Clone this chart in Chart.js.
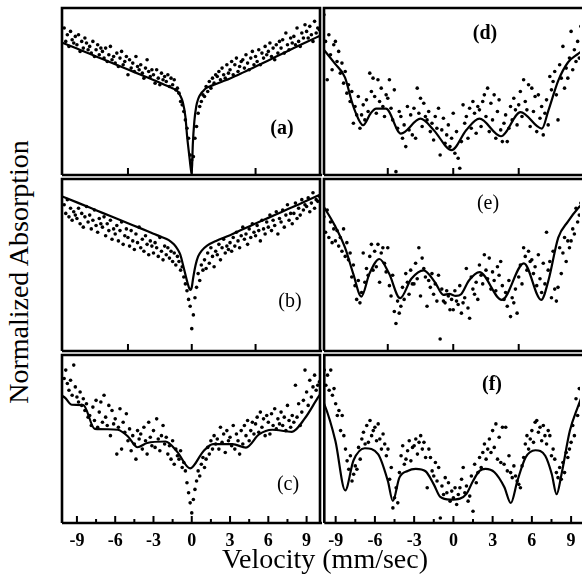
<!DOCTYPE html>
<html>
<head>
<meta charset="utf-8">
<script src="https://cdn.jsdelivr.net/npm/chart.js@4.4.1/dist/chart.umd.min.js"></script>
<style>
  html, body { margin: 0; padding: 0; background: #fff; }
  body { width: 582px; height: 576px; position: relative; overflow: hidden; font-family: 'Liberation Serif', 'Times New Roman', serif; color: #000; }
  .panel { position: absolute; }
  .txt { position: absolute; white-space: nowrap; transform: translate(-50%, -50%); line-height: 1; }
  .ytitle { transform: translate(-50%, -50%) rotate(-90deg); font-size: 28px; }
  .xtitle { font-size: 28px; }
  .tag { font-size: 20px; }
</style>
</head>
<body>
<canvas id="pa" class="panel"></canvas>
<canvas id="pb" class="panel"></canvas>
<canvas id="pc" class="panel"></canvas>
<canvas id="pd" class="panel"></canvas>
<canvas id="pe" class="panel"></canvas>
<canvas id="pf" class="panel"></canvas>

<div class="txt ytitle" style="left:19px;top:272px">Normalized Absorption</div>
<div class="txt xtitle" style="left:325px;top:559px">Velocity (mm/sec)</div>
<div class="txt tag" style="left:282px;top:127px;font-weight:bold">(a)</div>
<div class="txt tag" style="left:290px;top:300px">(b)</div>
<div class="txt tag" style="left:288px;top:483px">(c)</div>
<div class="txt tag" style="left:485px;top:32px;font-weight:bold">(d)</div>
<div class="txt tag" style="left:488px;top:202px">(e)</div>
<div class="txt tag" style="left:492px;top:383px;font-weight:bold">(f)</div>

<script>
// ── velocity channels (mm/sec), shared by all six spectra ──
const velocity = [
  -10,-9.875,-9.75,-9.625,-9.5,-9.375,-9.25,-9.125,
  -9,-8.875,-8.75,-8.625,-8.5,-8.375,-8.25,-8.125,
  -8,-7.875,-7.75,-7.625,-7.5,-7.375,-7.25,-7.125,
  -7,-6.875,-6.75,-6.625,-6.5,-6.375,-6.25,-6.125,
  -6,-5.875,-5.75,-5.625,-5.5,-5.375,-5.25,-5.125,
  -5,-4.875,-4.75,-4.625,-4.5,-4.375,-4.25,-4.125,
  -4,-3.875,-3.75,-3.625,-3.5,-3.375,-3.25,-3.125,
  -3,-2.875,-2.75,-2.625,-2.5,-2.375,-2.25,-2.125,
  -2,-1.875,-1.75,-1.625,-1.5,-1.375,-1.25,-1.125,
  -1,-0.875,-0.75,-0.625,-0.5,-0.375,-0.25,-0.125,
  0,0.125,0.25,0.375,0.5,0.625,0.75,0.875,
  1,1.125,1.25,1.375,1.5,1.625,1.75,1.875,
  2,2.125,2.25,2.375,2.5,2.625,2.75,2.875,
  3,3.125,3.25,3.375,3.5,3.625,3.75,3.875,
  4,4.125,4.25,4.375,4.5,4.625,4.75,4.875,
  5,5.125,5.25,5.375,5.5,5.625,5.75,5.875,
  6,6.125,6.25,6.375,6.5,6.625,6.75,6.875,
  7,7.125,7.25,7.375,7.5,7.625,7.75,7.875,
  8,8.125,8.25,8.375,8.5,8.625,8.75,8.875,
  9,9.125,9.25,9.375,9.5,9.625,9.75,9.875,
  10
];

// measured absorption (arbitrary units, 0 = bottom of panel, 100 = top)
const countsA = [
  88,80,84,77,86,81,79,83, 78,84,74,80,76,82,79,75, 77,73,80,71,75,78,72,76, 74,70,76,68,72,77,69,71,
  67,73,65,70,74,66,68,71, 60,69,64,67,62,71,65,63, 66,61,58,64,69,62,59,63, 60,55,63,58,54,61,57,59,
  56,60,53,58,54,57,51,52, 49,44,42,38,33,28,22,12, 9,11,22,29,37,41,44,48, 47,53,50,56,52,58,55,60,
  59,62,57,64,60,58,66,61, 63,68,60,66,70,62,65,68, 69,64,72,67,63,70,74,66, 71,68,75,66,73,70,77,72,
  74,79,71,76,69,78,73,80, 76,81,73,85,78,75,82,79, 83,78,88,80,77,85,82,90, 86,82,89,84,80,92,85,88,
  87
];
const countsB = [
  85,80,88,78,83,76,81,79, 77,83,74,80,72,78,84,75, 79,71,76,82,73,69,77,74, 72,78,67,74,70,76,65,71,
  68,73,64,70,75,62,67,71, 66,61,70,64,59,68,63,72, 60,65,58,67,62,56,64,61, 57,63,60,55,66,58,53,61,
  56,60,54,58,52,57,50,55, 52,47,49,43,39,35,30,26, 13,21,31,37,45,41,50,47, 53,48,57,51,60,55,49,58,
  56,62,53,60,65,57,61,59, 63,58,66,61,69,64,60,67, 72,65,68,62,71,66,74,69, 67,73,70,64,76,71,68,75,
  72,79,70,76,73,81,68,77, 75,82,72,79,85,76,80,74, 80,86,77,83,79,88,82,85, 84,89,81,86,92,83,88,87,
  90
];
const countsC = [
  86,91,83,79,85,76,94,81, 75,72,78,70,74,67,71,63, 64,58,69,61,73,57,66,72, 60,76,63,58,70,52,67,59,
  62,41,57,68,44,60,54,65, 49,56,43,52,47,38,55,50, 53,44,57,49,41,60,51,46, 55,45,62,50,43,52,58,47,
  51,41,46,38,49,35,44,40, 38,43,33,36,31,24,18,12, 6,14,20,25,31,28,35,39, 33,38,45,41,49,44,52,47,
  50,44,57,48,53,42,55,49, 51,46,58,44,53,49,41,55, 47,58,52,61,49,55,60,53, 59,63,54,66,57,62,52,64,
  60,53,65,58,68,56,62,59, 66,58,63,55,70,61,57,64, 60,82,63,71,58,66,73,91, 78,70,85,75,81,88,79,82,
  84
];
const countsD = [
  90,96,80,57,84,72,63,78, 80,68,74,61,67,55,62,49, 54,44,50,31,41,36,47,28, 36,42,33,45,38,61,50,58,
  47,37,57,44,52,41,35,48, 46,57,40,33,51,2,28,38, 35,22,30,17,41,27,36,24, 40,22,52,37,46,29,43,35,
  33,38,26,31,21,35,28,40, 12,27,34,19,24,30,17,22, 37,13,26,10,4,20,42,31, 35,22,40,28,44,37,25,41,
  39,29,44,48,35,52,26,43, 33,48,22,38,45,27,20,31, 36,20,28,41,33,46,39,30, 42,50,35,57,44,39,54,29,
  52,38,47,26,48,34,41,24, 37,45,30,59,51,56,62,48, 33,66,58,77,52,64,58,70, 86,63,75,68,80,70,89,74,
  78
];
const countsE = [
  88,78,69,82,66,75,63,71, 64,70,61,66,58,71,55,63, 53,57,43,50,38,30,41,28, 34,57,40,48,44,55,62,47,
  58,49,62,40,57,60,51,46, 60,38,32,44,23,16,29,22, 26,37,30,45,40,33,47,39, 39,51,42,60,32,54,48,43,
  26,41,37,45,33,39,29,44, 7,36,29,28,35,32,24,30, 24,35,29,27,38,22,28,31, 48,25,19,43,36,33,40,30,
  50,44,39,56,47,42,54,36, 46,41,35,49,44,52,38,30, 34,26,41,20,31,28,36,22, 43,50,39,60,55,47,58,52,
  53,45,49,38,56,42,34,51, 39,69,47,52,31,58,36,29, 37,60,45,57,66,52,64,60, 64,71,68,83,75,79,86,72,
  88
];
const countsF = [
  86,91,82,88,79,91,76,80, 71,64,67,55,64,52,44,37, 32,40,25,29,34,32,45,38, 50,54,47,58,48,61,52,55,
  57,49,59,50,44,53,47,40, 44,26,33,9,15,21,12,30, 40,46,35,38,43,49,37,45, 46,50,41,48,52,44,48,39,
  21,44,39,31,28,36,25,33, 3,22,17,27,18,24,13,19, 15,21,11,17,21,26,33,18, 22,13,16,28,7,35,24,30,
  39,33,42,47,38,44,50,42, 55,45,59,38,51,36,57,35, 57,31,40,30,27,34,28,25, 23,21,34,39,47,52,44,50,
  55,48,60,61,54,57,49,58, 52,47,55,52,40,44,38,30, 27,33,26,36,30,42,39,44, 48,58,52,74,64,80,70,83,
  85
];

// fitted curves (knots)
const fitAx = [-10.2,-9,-8,-7,-6,-5,-4,-3,-2.4,-1.8,-1.4,-1.1,-0.9,-0.7,-0.5,-0.35,-0.2,-0.08,0,0.08,0.2,0.35,0.5,0.7,0.9,1.1,1.4,1.8,2.4,3,4,5,6,7,8,9,10.1];
const fitAy = [79.4,75.7,72.6,69.4,66.3,63.2,60,56.9,55,53,51.6,50,47.5,43.5,35,22,12,4,0.5,18,32,41,45.5,48.5,50.3,51.8,53,54.2,56,57.8,61.3,65,68.6,72.3,76,79.6,83.6];
const fitBx = [-10.2,-9,-8,-7,-6,-5,-4,-3,-2.4,-1.8,-1.4,-1.1,-0.9,-0.65,-0.4,-0.2,-0.1,0,0.1,0.3,0.5,0.8,1.2,1.9,3,4,5,6,7,8,9,10.1];
const fitBy = [90,86.4,83.4,80.3,77.3,74.3,71.3,68.2,66.4,64.5,62,59,56,49,41.5,36.5,35.5,37,42,50,55,58.5,61.3,64,67.3,70.8,74.1,77.4,80.7,84,87.3,91];
const fitCx = [-10.2,-9.9,-9.4,-8.5,-7.6,-6.6,-5.8,-5,-4.25,-3.5,-2.06,-1.16,-0.13,0.9,1.67,3.2,4.25,5.27,6.3,7.85,8.88,9.86,10.1];
const fitCy = [76,74.3,70.4,70.2,56,55.8,55.5,51.5,45.1,47.6,48.5,42.6,32.5,42.6,46.9,46.9,44.9,52.7,55.5,54.3,62.5,74.3,77];
const fitDx = [-10,-9.82,-9.02,-8.27,-7.77,-7.52,-6.89,-6.3,-5.89,-5.14,-4,-2.5,-1.5,-0.12,1,2,3.64,5.14,6.77,7.27,8.02,8.77,9.53,9.8];
const fitDy = [76,74.4,66.5,58.5,44.6,38.7,29.8,37,39.7,39.7,24.8,33.7,27,14.9,27,33.7,23.2,37.7,27.8,38.7,56.5,67.5,72.5,74];
const fitEx = [-10,-9.82,-9.02,-8.27,-7.64,-7.02,-6.4,-5.64,-4.9,-4.06,-3.2,-2.26,-1.4,-0.75,-0.3,0.2,0.6,1.2,2,3.71,5.39,6.72,7.27,8.02,8.77,9.53,9.8];
const fitEy = [85,83,72.6,60.2,45,31.6,45,53.5,45,30.7,42,46.9,40,32.6,33.2,32,33,41,45.9,29.7,51,29.7,41,65.9,75.4,83,85];
const fitFx = [-10.1,-9.9,-9.02,-8.27,-7.64,-6.77,-5.76,-5.01,-4.63,-4.13,-3.5,-2.88,-2.13,-1.5,-1,-0.25,0.5,1,1.5,2,2.45,3.14,3.89,4.39,4.89,5.52,6.27,7.02,7.52,7.89,8.27,8.9,9.53,9.8];
const fitFy = [74,71.4,48.8,19.4,37.2,44.5,41,25,13.1,27,31,32.2,30.8,23,15.5,13.9,14.5,17.3,25,31,32.2,30.2,21.4,11.9,25,39,43.3,40,29.2,17.1,29.2,54.7,69.4,75];

// tick marks
const upperTicks = [-5, 0, 5];
const bottomTicks = [-9,-7.5,-6,-4.5,-3,-1.5,0,1.5,3,4.5,6,7.5,9];
const bottomLabels = [-9,-6,-3,0,3,6,9];

Chart.defaults.font.family = "'Liberation Serif', 'Times New Roman', serif";
Chart.defaults.color = '#000';

// frame + inward tick marks along the bottom edge
const framePlugin = {
  id: 'frame',
  afterDraw(chart, args, opts) {
    const { ctx, chartArea: a, scales: { x } } = chart;
    ctx.save();
    ctx.strokeStyle = '#000';
    ctx.lineWidth = 2.6;
    ctx.beginPath();
    ctx.moveTo(a.left, a.bottom); ctx.lineTo(a.left, a.top);
    if (opts.right) { ctx.lineTo(a.right, a.top); ctx.lineTo(a.right, a.bottom); }
    else ctx.lineTo(a.right + 2, a.top);
    ctx.moveTo(a.left, a.bottom); ctx.lineTo(a.right + 2, a.bottom);
    ctx.stroke();
    ctx.lineWidth = 2;
    ctx.beginPath();
    opts.ticks.forEach(v => {
      const px = x.getPixelForValue(v);
      const len = opts.major.includes(v) ? 7 : 4;
      ctx.moveTo(px, a.bottom); ctx.lineTo(px, a.bottom - len);
    });
    ctx.stroke();
    ctx.restore();
  }
};

function makePanel(id, box, vMin, vMax, counts, fitX, fitY, bottom, rightFrame) {
  const pad = 2, axisH = 44;
  const cv = document.getElementById(id);
  const w = box.w + pad * 2;
  const h = box.h + pad + (bottom ? axisH : pad);
  cv.width = w; cv.height = h;
  cv.style.left = (box.left - pad) + 'px';
  cv.style.top = (box.top - pad) + 'px';
  cv.style.width = w + 'px'; cv.style.height = h + 'px';

  const xScale = {
    type: 'linear', min: vMin, max: vMax, display: bottom,
    grid: { display: false, drawTicks: false }, border: { display: false },
    ticks: { color: '#000', font: { size: 18, weight: 'bold' }, padding: 8, maxRotation: 0, autoSkip: false,
             callback: v => String(v) }
  };
  if (bottom) {
    xScale.afterBuildTicks = s => { s.ticks = bottomLabels.map(v => ({ value: v })); };
    xScale.afterFit = s => { s.height = axisH; };
  }

  new Chart(cv, {
    type: 'scatter',
    data: {
      datasets: [
        { data: fitX.map((x, i) => ({ x, y: fitY[i] })), showLine: true, borderColor: '#000', borderWidth: 2.2,
          pointRadius: 0, cubicInterpolationMode: 'monotone', fill: false },
        { data: velocity.map((x, i) => ({ x, y: counts[i] })), pointRadius: 1.8, pointBackgroundColor: '#000',
          pointBorderWidth: 0, showLine: false }
      ]
    },
    options: {
      responsive: false, animation: false, events: [], devicePixelRatio: 1,
      layout: { padding: { left: pad, right: pad, top: pad, bottom: bottom ? 0 : pad } },
      plugins: {
        legend: { display: false }, tooltip: { enabled: false },
        frame: { right: rightFrame, ticks: bottom ? bottomTicks : upperTicks, major: bottom ? bottomLabels : upperTicks }
      },
      scales: {
        x: xScale,
        y: { type: 'linear', min: 0, max: 100, display: false }
      }
    },
    plugins: [framePlugin]
  });
}

const leftCol = { left: 60, w: 262 }, rightCol = { left: 322, w: 260 };
const rowA = { top: 6, h: 171 }, rowB = { top: 177, h: 176 }, rowC = { top: 353, h: 170 };
const leftMin = -10.17, leftMax = 10.05, rightMin = -9.87, rightMax = 9.68;

makePanel('pa', { ...leftCol, ...rowA }, leftMin, leftMax, countsA, fitAx, fitAy, false, true);
makePanel('pb', { ...leftCol, ...rowB }, leftMin, leftMax, countsB, fitBx, fitBy, false, true);
makePanel('pc', { ...leftCol, ...rowC }, leftMin, leftMax, countsC, fitCx, fitCy, true, true);
makePanel('pd', { ...rightCol, ...rowA }, rightMin, rightMax, countsD, fitDx, fitDy, false, false);
makePanel('pe', { ...rightCol, ...rowB }, rightMin, rightMax, countsE, fitEx, fitEy, false, false);
makePanel('pf', { ...rightCol, ...rowC }, rightMin, rightMax, countsF, fitFx, fitFy, true, false);
</script>
</body>
</html>
